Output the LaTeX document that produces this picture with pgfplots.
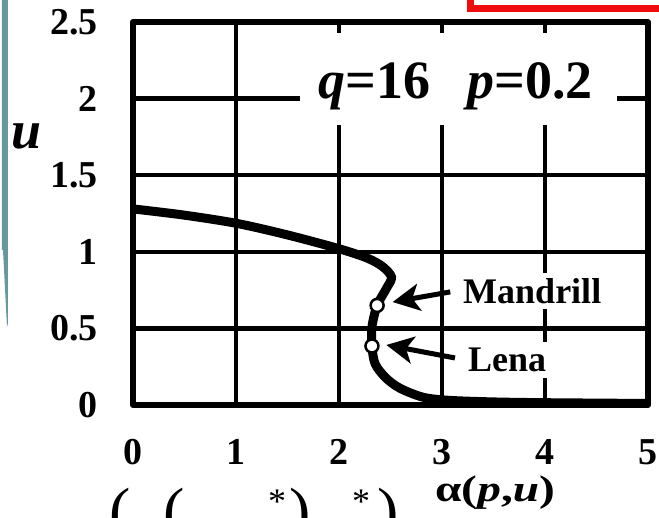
\documentclass[border=0pt]{standalone}
\usepackage{fontspec}
\setmainfont{Liberation Serif}
\usepackage{graphicx}
\usepackage{pgfplots}
\pgfplotsset{compat=1.18}
\usetikzlibrary{arrows.meta}
\definecolor{slideteal}{RGB}{102,152,157}
\definecolor{slidered}{RGB}{240,12,12}

\begin{document}
\begin{tikzpicture}[x=1pt,y=1pt]
\begin{axis}[
  scale only axis, width=515pt, height=383pt,
  xmin=0, xmax=5, ymin=0, ymax=2.5,
  xtick={0,1,2,3,4,5},
  ytick={0,0.5,1,1.5,2,2.5},
  grid=major,
  major grid style={black, line width=4.5pt},
  axis line style={line width=6pt, line join=round},
  major tick length=0pt,
  tick style={draw=none},
  /pgf/number format/assume math mode=true,
  ticklabel style={font=\fontsize{38}{38}\selectfont\bfseries, inner sep=0pt},
  yticklabel style={anchor=east, xshift=-35pt},
  xticklabel style={anchor=north, yshift=-34pt},
  clip=false,
]
\coordinate (O) at (axis cs:0,0);

% stationary solution u versus alpha(p,u)
\addplot[black, line width=9pt, smooth, tension=0.5] coordinates {
  (0,1.28) (0.49,1.24) (1.01,1.185) (1.5,1.11) (2.0,1.02)
  (2.27,0.96) (2.42,0.905) (2.51,0.835) (2.46,0.76)
  (2.37,0.65) (2.32,0.51) (2.32,0.385) (2.35,0.27)
  (2.45,0.18) (2.59,0.11) (2.82,0.05) (3.08,0.03)
  (3.5,0.02) (4,0.015) (5,0.01)
};

% operating points of the two test images
\addplot[only marks, mark=*, mark size=6.5pt,
  mark options={fill=white, draw=black, line width=2.5pt}]
  coordinates {(2.37,0.65) (2.32,0.385)};

% parameter box
\fill[white] (axis cs:1.62,1.83) rectangle (axis cs:4.70,2.43);
\node[anchor=base west, inner sep=0pt,
  font=\fontsize{54}{54}\selectfont\bfseries]
  at (axis cs:1.80,2.0) {\textit{q}=16\hspace{37pt}\textit{p}=0.2};

% annotations
\node[anchor=west, fill=white, inner xsep=6pt, inner ysep=5pt,
  font=\fontsize{36}{36}\selectfont\bfseries]
  at (axis cs:3.146,0.744) {Mandrill};
\node[anchor=west, fill=white, inner xsep=6pt, inner ysep=6pt,
  font=\fontsize{36}{36}\selectfont\bfseries]
  at (axis cs:3.194,0.294) {Lena};
\draw[line width=5pt, -{Stealth[length=27pt, width=27pt, inset=7pt]}]
  (axis cs:3.08,0.738) -- (axis cs:2.52,0.672);
\draw[line width=5pt, -{Stealth[length=27pt, width=27pt, inset=7pt]}]
  (axis cs:3.126,0.307) -- (axis cs:2.46,0.392);

% axis labels
\node[inner sep=0pt, font=\fontsize{37}{37}\selectfont\bfseries]
  at (axis cs:3.515,-0.575) {\scalebox{1.28}[1]{α(\textit{p},\textit{u})}};
\node[font=\fontsize{54}{54}\selectfont\bfseries\itshape]
  at (axis cs:-1.03,1.75) {u};
\end{axis}

% page frame measured from the lower left corner of the plot area
\pgfresetboundingbox
\begin{scope}[shift={(O)}, xshift=-133pt, yshift=-113pt]
  \useasboundingbox (0,0) rectangle (659,518);
  % slide frame pieces around the figure
  \fill[slideteal] (2,518) -- (8,518) -- (8,195) -- (7,191) -- (3,268) -- (2,268) -- cycle;
  \draw[slidered, line width=7pt] (470,509) rectangle (720,580);
  % lower edge of the formula below the figure
  \begin{scope}[every node/.style={inner sep=0pt}]
    \node[anchor=north, font=\fontsize{64}{64}\selectfont] at (120,30) {(};
    \node[anchor=north, font=\fontsize{64}{64}\selectfont] at (174,30) {(};
    \node[font=\fontsize{36}{36}\selectfont] at (277,16) {*};
    \node[anchor=north, font=\fontsize{64}{64}\selectfont] at (300,30) {)};
    \node[font=\fontsize{36}{36}\selectfont] at (361,16) {*};
    \node[anchor=north, font=\fontsize{64}{64}\selectfont] at (388,30) {)};
  \end{scope}
\end{scope}
\end{tikzpicture}
\end{document}
